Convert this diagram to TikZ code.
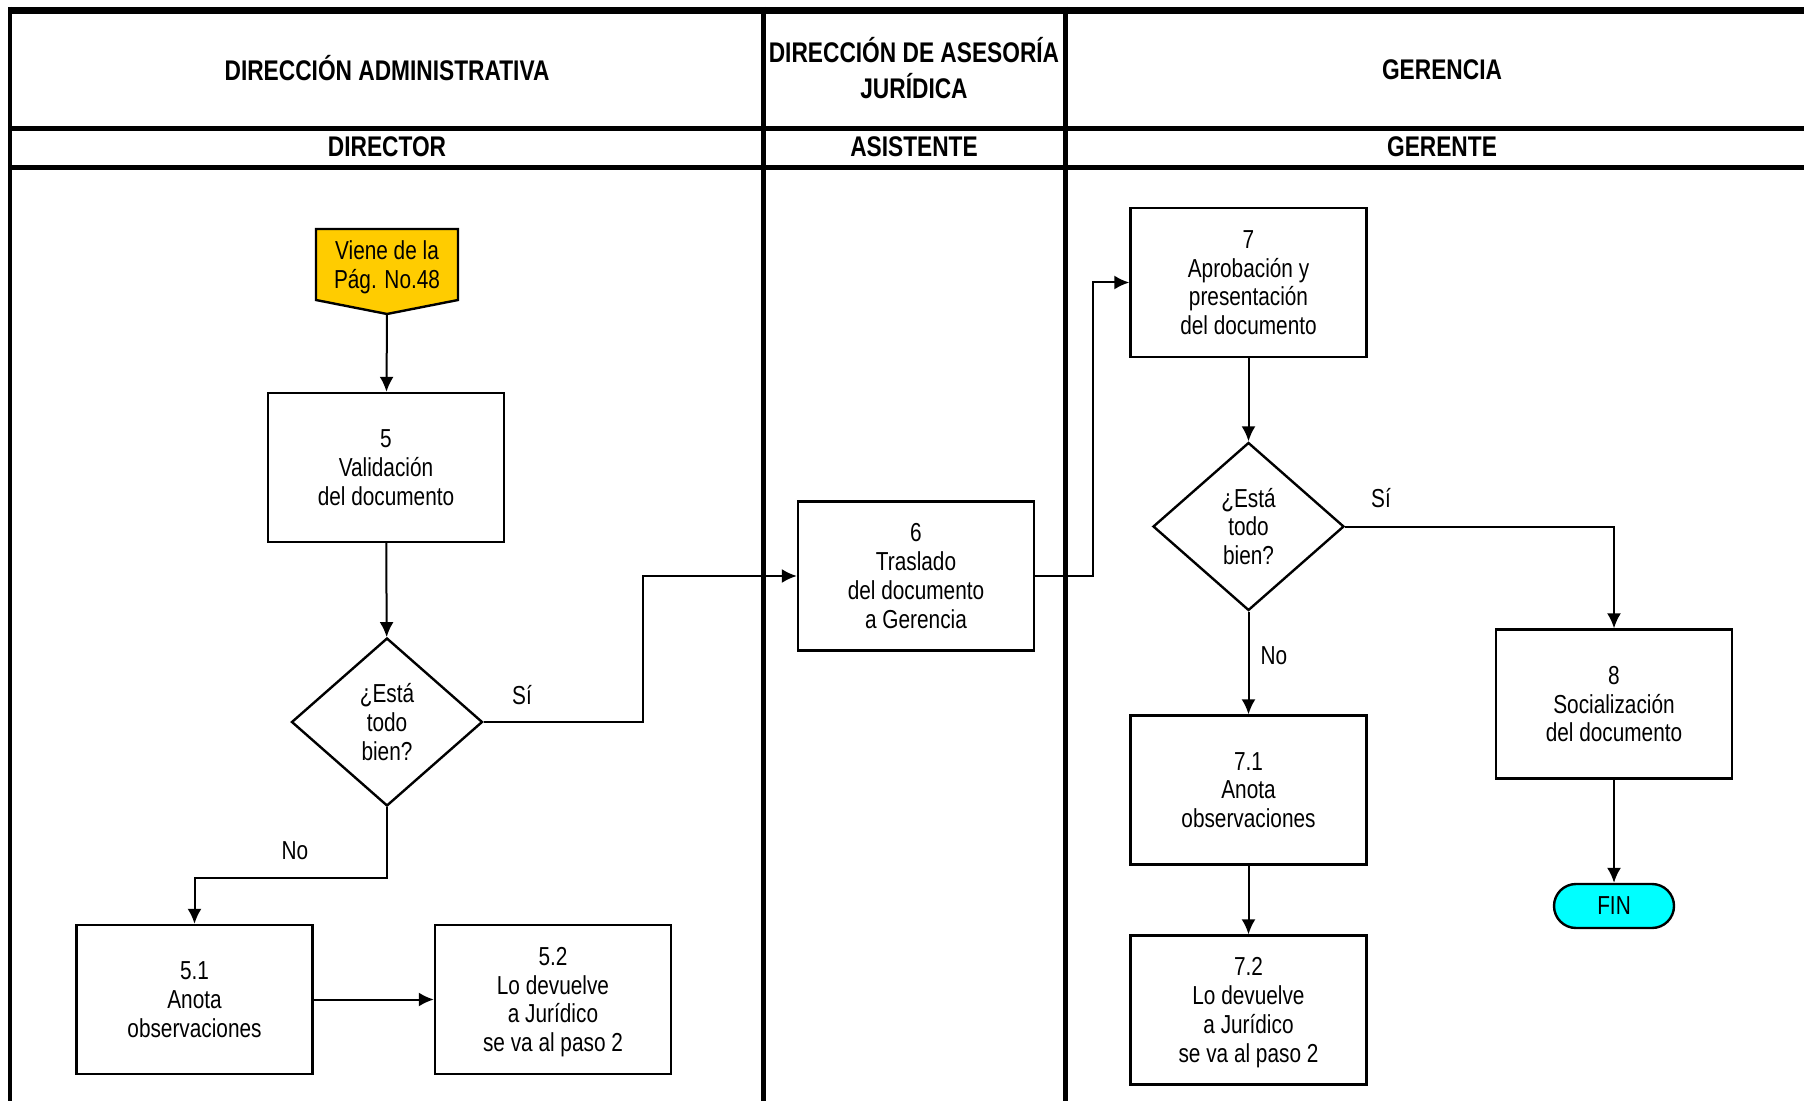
\documentclass[tikz,border=0pt]{standalone}
\usepackage{fontspec}
\setmainfont[FakeStretch=0.8]{Liberation Sans}
\usetikzlibrary{arrows.meta,shapes.geometric}
\definecolor{amarillo}{HTML}{FFCC00}
\definecolor{celeste}{HTML}{00FFFF}
\tikzset{
  paso/.style={draw,line width=1.2pt,minimum width=118pt,minimum height=74.5pt,text depth=-4.5pt,align=center,font=\fontsize{13}{14.4}\selectfont},
  decision/.style={draw,diamond,line width=1.2pt,minimum width=95.5pt,minimum height=84pt,inner sep=0pt,align=center,font=\fontsize{13}{14.4}\selectfont},
  etiqueta/.style={font=\fontsize{13}{14.4}\selectfont,align=center},
  titulo/.style={font=\bfseries\fontsize{14.2}{17.8}\selectfont,align=center},
  carril/.style={line width=2.5pt},
  flecha/.style={black,line width=1pt,->},
}
\begin{document}
\begin{tikzpicture}[>={Latex[length=7.5pt,width=7pt]},line join=miter,x=0.5pt,y=-0.5pt]
\useasboundingbox (0,0) rectangle (1804,1101);
%%
\draw [line width=3.5pt] (8,10.5) -- (1804,10.5);
\draw [line width=2pt] (10,7) -- (10,1101);
\draw [carril] (10,128.5) -- (1804,128.5);
\draw [carril] (10,167.5) -- (1804,167.5);
\draw [carril] (763.5,7) -- (763.5,1101);
\draw [carril] (1065,7) -- (1065,1101);
  \node (adm) at (387,68) [titulo] {DIRECCIÓN ADMINISTRATIVA};
  \node (jur) at (914,68) [titulo] {DIRECCIÓN DE ASESORÍA\\JURÍDICA};
  \node (ger) at (1442,69.5) [titulo] {GERENCIA};
  \node (director) at (387,147) [titulo] {DIRECTOR};
  \node (asistente) at (914,147) [titulo] {ASISTENTE};
  \node (gerente) at (1442,147) [titulo] {GERENTE};
%
\filldraw [fill=amarillo,line width=1.2pt] (316,229) -- (458,229) -- (458,300) -- (387,314) -- (316,300) -- cycle;
  \coordinate (vienept) at (387,314);
  \node (viene) at (387,267) [etiqueta] {Viene de la\\Pág. No.48};
  \node (p5) at (386,467.5) [paso] {5\\Validación\\del documento};
  \node (d1) at (387,722) [decision] {¿Está\\todo\\bien?};
  \node (p51) at (194.5,999.5) [paso] {5.1\\Anota\\observaciones};
  \node (p52) at (553,999.5) [paso] {5.2\\Lo devuelve\\a Jurídico\\se va al paso 2};
  \node (p6) at (916,576) [paso] {6\\Traslado\\del documento\\a Gerencia};
  \node (p7) at (1248.5,282.5) [paso] {7\\Aprobación y\\presentación\\del documento};
  \node (d2) at (1248.5,526.5) [decision] {¿Está\\todo\\bien?};
  \node (p71) at (1248.5,790) [paso] {7.1\\Anota\\observaciones};
  \node (p72) at (1248.5,1010) [paso] {7.2\\Lo devuelve\\a Jurídico\\se va al paso 2};
  \node (p8) at (1614,704) [paso] {8\\Socialización\\del documento};
  \node (fin) at (1614,906) [draw,fill=celeste,line width=1.2pt,rounded corners=11pt,minimum width=60pt,minimum height=22pt,etiqueta] {FIN};
  \node (si1) at (522,695) [etiqueta] {Sí};
  \node (no1) at (295,851) [etiqueta] {No};
  \node (si2) at (1381,498) [etiqueta] {Sí};
  \node (no2) at (1274,656) [etiqueta] {No};
%
  \draw [flecha] (vienept) -- (p5);
  \draw [flecha] (p5) -- (d1);
  \draw [flecha] (d1.east) -- ++(159,0) |- (p6.west);
  \draw [flecha] (d1.south) -- ++(0,71) -| (p51.north);
  \draw [flecha] (p51.east) -- (p52.west);
  \draw [flecha] (p6.east) -- ++(58,0) |- (p7.west);
  \draw [flecha] (p7) -- (d2);
  \draw [flecha] (d2.east) -| (p8.north);
  \draw [flecha] (d2) -- (p71);
  \draw [flecha] (p71) -- (p72);
  \draw [flecha] (p8) -- (fin);
%
\end{tikzpicture}
\end{document}
